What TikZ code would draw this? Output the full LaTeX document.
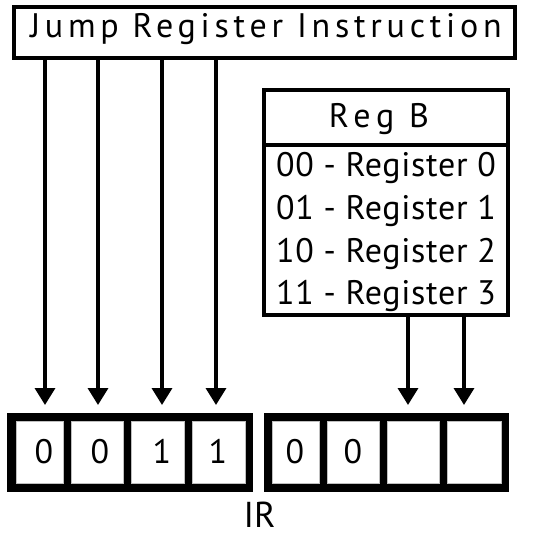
\documentclass[tikz,border=0pt]{standalone}
\usepackage{fontspec}
\setmainfont{PT Sans}
\newfontfamily\spaced[LetterSpace=14]{PT Sans}
\newfontfamily\spacedb[LetterSpace=17]{PT Sans}
\newfontfamily\spacedr[LetterSpace=2]{PT Sans}
\usetikzlibrary{arrows.meta}
\begin{document}
\begin{tikzpicture}[x=1pt,y=-1pt,
  frame/.style={draw=black, line width=4pt, fill=white, inner sep=0pt, outer sep=0pt},
  lbl/.style={inner sep=0pt, anchor=base, font=\fontsize{34}{34}\selectfont},
  reglbl/.style={lbl, font=\fontsize{34}{34}\spacedr},
  arr/.style={line width=3.5pt, -{Triangle[width=20pt,length=17pt]}},
  grp/.style={fill=black, inner sep=0pt, outer sep=0pt, minimum height=79pt},
  cell/.style={fill=white, draw=black!25, line width=0.6pt, inner sep=0pt, outer sep=0pt, minimum height=62pt}]
\useasboundingbox (0,0) rectangle (534,539);
% top box
\node[frame, minimum width=501pt, minimum height=51pt] (top) at (264.5,32.5) {};
\node[lbl, font=\fontsize{34}{34}\spaced] (toptext) at (266,37.5) {Jump Register Instruction};
% Reg B table
\node[frame, minimum width=244pt, minimum height=55pt] (regbh) at (386,117.5) {};
\node[frame, minimum width=244pt, minimum height=170pt] (regbb) at (386,230) {};
\node[lbl, font=\fontsize{34}{34}\spacedb] (regbt) at (379,127.5) {Reg B};
\node[reglbl] (r0) at (386,176) {00 - Register 0};
\node[reglbl] (r1) at (386,219) {01 - Register 1};
\node[reglbl] (r2) at (386,262) {10 - Register 2};
\node[reglbl] (r3) at (386,304) {11 - Register 3};
% IR groups
\node[grp, minimum width=246pt] (g1) at (130,452.5) {};
\node[grp, minimum width=245pt] (g2) at (386.5,452.5) {};
\node[cell, minimum width=47pt] (c1) at (39.5,452) {};
\node[cell, minimum width=52.5pt] (c2) at (97.25,452) {};
\node[cell, minimum width=52.5pt] (c3) at (157.75,452) {};
\node[cell, minimum width=53pt] (c4) at (218.5,452) {};
\node[cell, minimum width=47pt] (c5) at (295.5,452) {};
\node[cell, minimum width=52pt] (c6) at (353,452) {};
\node[cell, minimum width=52pt] (c7) at (413,452) {};
\node[cell, minimum width=54pt] (c8) at (474,452) {};
\node[lbl] (d1) at (44,463) {0};
\node[lbl] (d2) at (100,463) {0};
\node[lbl] (d3) at (162,463) {1};
\node[lbl] (d4) at (218,463) {1};
\node[lbl] (d5) at (295,463) {0};
\node[lbl] (d6) at (353,463) {0};
\node[lbl, font=\fontsize{36}{36}\selectfont] (ir) at (259.5,527) {IR};
% arrows
\coordinate (a1) at (45,405);
\coordinate (a2) at (98,405);
\coordinate (a3) at (162,405);
\coordinate (a4) at (216,405);
\coordinate (b1) at (408,405);
\coordinate (b2) at (464,405);
\foreach \p in {a1,a2,a3,a4} \draw[arr] (top.south -| \p) -- (\p);
\foreach \p in {b1,b2} \draw[arr] (regbb.south -| \p) -- (\p);
\end{tikzpicture}
\end{document}
